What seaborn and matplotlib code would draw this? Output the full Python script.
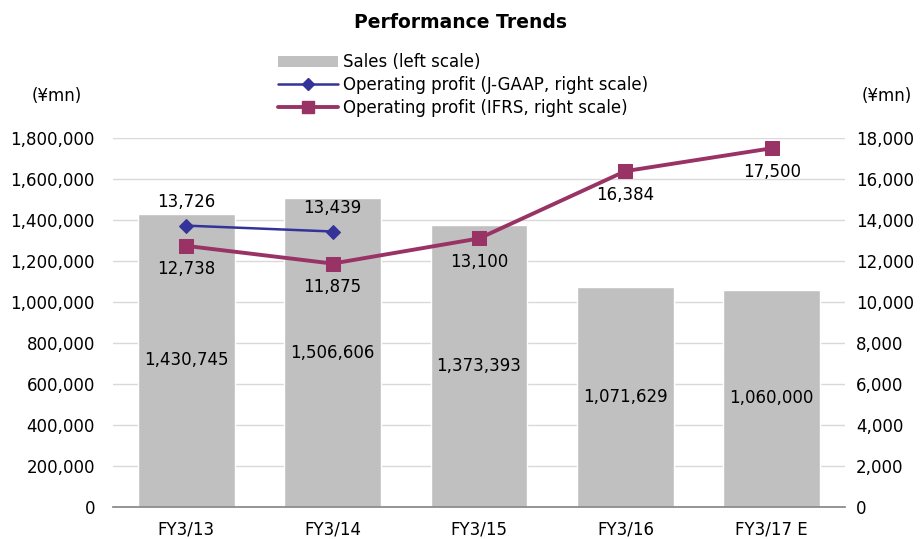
import matplotlib
matplotlib.use("Agg")
import matplotlib.pyplot as plt
import seaborn as sns
import numpy as np
import pandas as pd
from matplotlib.ticker import FuncFormatter, FixedLocator
from matplotlib.lines import Line2D
from matplotlib.patches import Patch

categories = ["FY3/13", "FY3/14", "FY3/15", "FY3/16", "FY3/17 E"]
sales = [1430745, 1506606, 1373393, 1071629, 1060000]
op_jgaap = [13726, 13439, np.nan, np.nan, np.nan]
op_ifrs = [12738, 11875, 13100, 16384, 17500]
left_ticks = [0, 200000, 400000, 600000, 800000, 1000000, 1200000, 1400000, 1600000, 1800000]
right_ticks = [0, 2000, 4000, 6000, 8000, 10000, 12000, 14000, 16000, 18000]

sns.set_theme(style="white")
plt.rcParams['font.family'] = ['DejaVu Sans']
plt.rcParams['text.color'] = 'black'
plt.rcParams['xtick.color'] = 'black'
plt.rcParams['ytick.color'] = 'black'
plt.rcParams['xtick.labelcolor'] = 'black'
plt.rcParams['ytick.labelcolor'] = 'black'

bar_c = "#C0C0C0"
jg_c = "#333399"
if_c = "#993366"

fig = plt.figure(figsize=(9.21, 5.39), dpi=100)
ax = fig.add_axes([113/921, 32/539, 732/921, 369/539])

df = pd.DataFrame({"cat": categories, "sales": sales, "jg": op_jgaap, "ifrs": op_ifrs})
sns.barplot(data=df, x="cat", y="sales", color=bar_c, width=0.66, ax=ax, saturation=1)
ax.set_ylim(0, 1800000)
ax.set_xlim(-0.5, 4.5)
ax.yaxis.set_major_locator(FixedLocator(left_ticks))
ax.yaxis.set_major_formatter(FuncFormatter(lambda v, p: f"{int(v):,}"))
ax.grid(axis="y", color="#D9D9D9", linewidth=1)
ax.set_axisbelow(True)
ax.set_xlabel("")
ax.set_ylabel("")
for s in ["top", "left", "right"]:
    ax.spines[s].set_visible(False)
ax.spines["bottom"].set_color("#888888")
ax.tick_params(axis="y", length=0, labelsize=12, pad=13)
ax.tick_params(axis="x", length=0, labelsize=12, pad=10)
ax.set_xticks(np.arange(-0.5, 5, 1), minor=True)
ax.tick_params(axis="x", which="minor", length=5, color="#888888", width=1)

for i, v in enumerate(sales):
    ax.text(i, v / 2, f"{v:,}", ha="center", va="center", fontsize=12, color="black")

ax2 = ax.twinx()
sns.lineplot(x=np.arange(5), y=op_jgaap, ax=ax2, color=jg_c, marker="D", markersize=7,
             linewidth=1.8, markeredgecolor=jg_c)
sns.lineplot(x=np.arange(5), y=op_ifrs, ax=ax2, color=if_c, marker="s", markersize=10,
             linewidth=2.8, markeredgecolor=if_c)
ax2.set_ylim(0, 18000)
ax2.set_xlim(-0.5, 4.5)
ax2.yaxis.set_major_locator(FixedLocator(right_ticks))
ax2.yaxis.set_major_formatter(FuncFormatter(lambda v, p: f"{int(v):,}"))
ax2.tick_params(axis="y", length=0, labelsize=12, pad=8)
ax2.grid(False)
for s in ["top", "left", "right", "bottom"]:
    ax2.spines[s].set_visible(False)
ax2.set_ylabel("")

for i, v in enumerate(op_jgaap):
    if not np.isnan(v):
        ax2.annotate(f"{int(v):,}", (i, v), xytext=(0, 17), textcoords="offset points",
                     ha="center", va="center", fontsize=12)
for i, v in enumerate(op_ifrs):
    ax2.annotate(f"{v:,}", (i, v), xytext=(0, -17), textcoords="offset points",
                 ha="center", va="center", fontsize=12)

fig.text(0.5, 1 - 22/539, "Performance Trends", ha="center", va="center",
         fontsize=13.5, fontweight="bold")
fig.text(57/921, 1 - 96/539, "(¥mn)", ha="center", va="center", fontsize=12)
fig.text(887/921, 1 - 96/539, "(¥mn)", ha="center", va="center", fontsize=12)

handles = [
    Patch(facecolor=bar_c, edgecolor="none"),
    Line2D([], [], color=jg_c, marker="D", markersize=6, linewidth=1.8),
    Line2D([], [], color=if_c, marker="s", markersize=9, linewidth=2.8),
]
labels = ["Sales (left scale)", "Operating profit (J-GAAP, right scale)",
          "Operating profit (IFRS, right scale)"]
fig.legend(handles, labels, loc="upper left", bbox_to_anchor=(270/921, 1 - 45/539),
           frameon=False, fontsize=12, handlelength=3.6, labelspacing=0.28,
           borderpad=0, handletextpad=0.3)

fig.savefig("out.png", dpi=100)
